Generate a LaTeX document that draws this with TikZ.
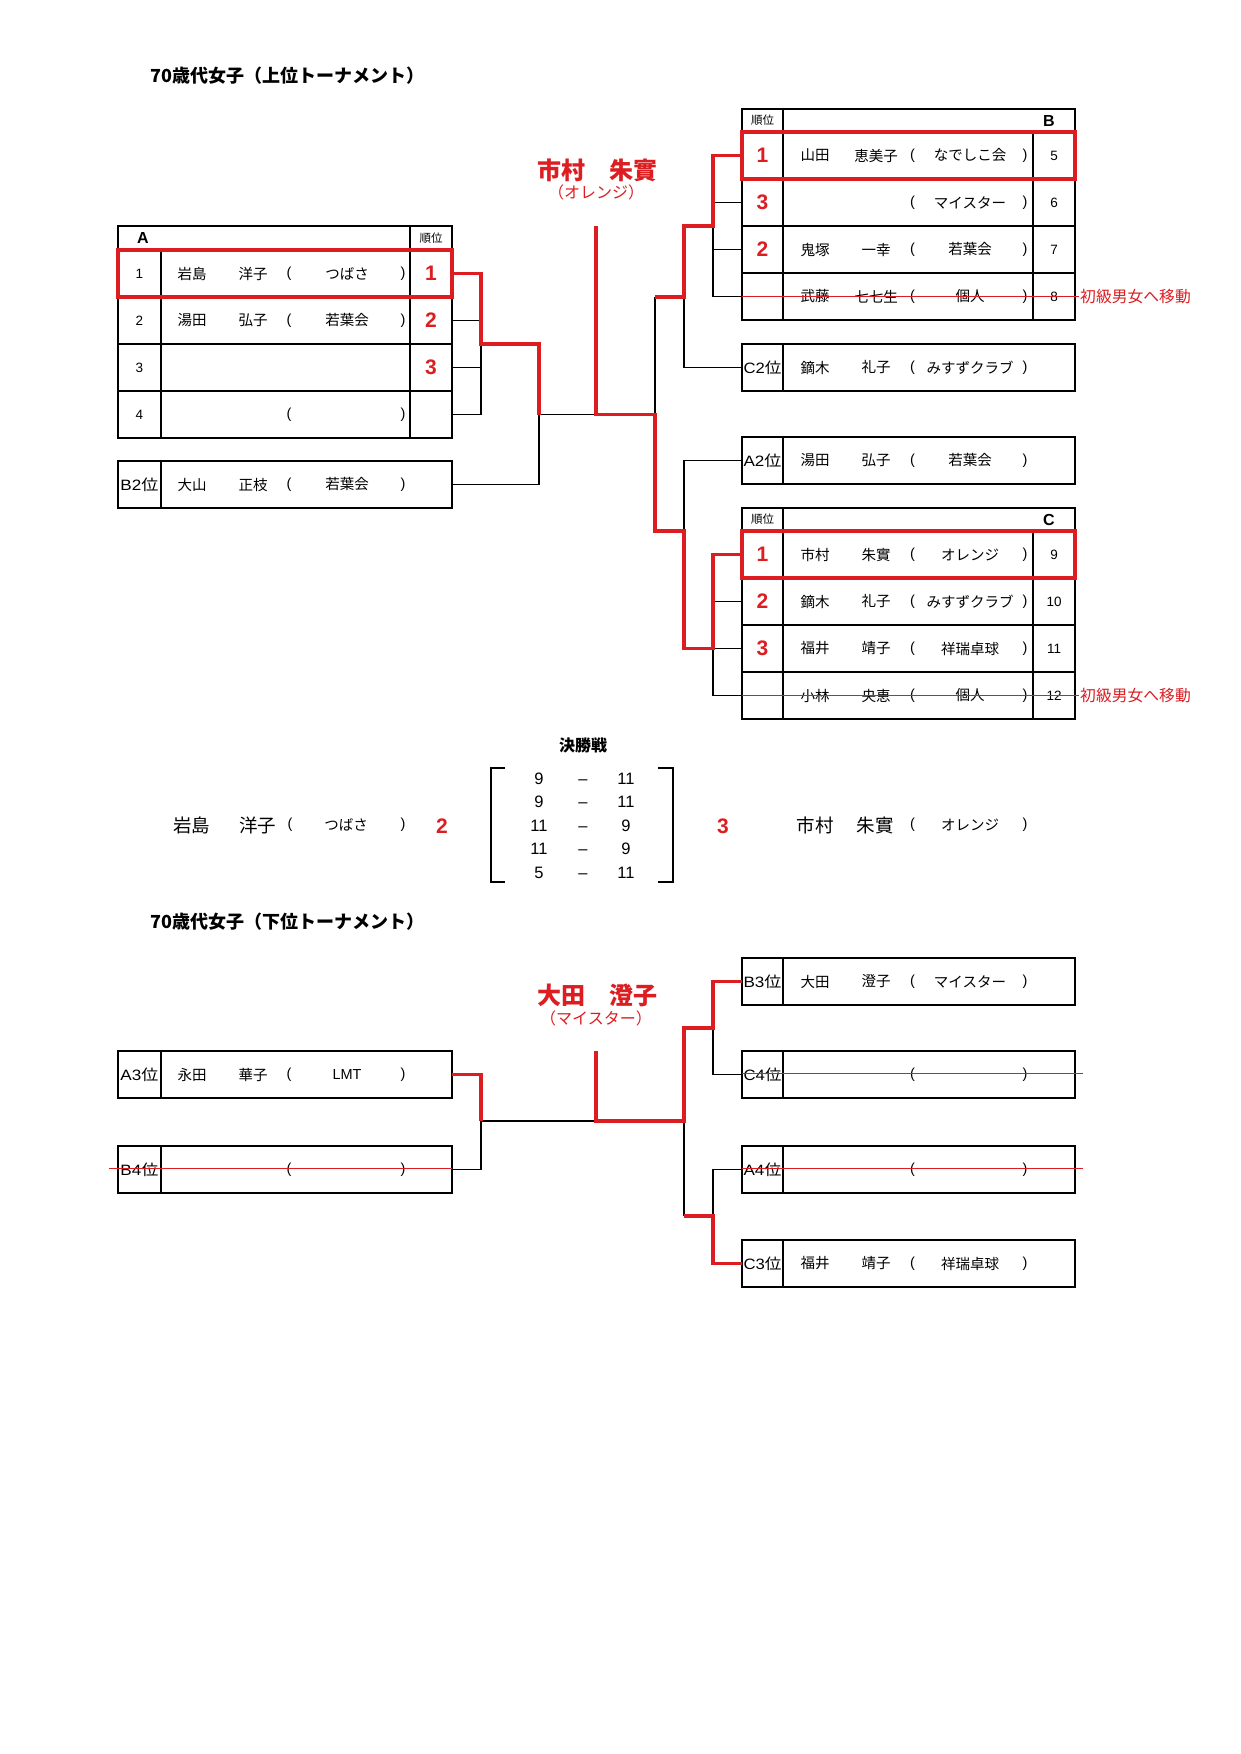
\documentclass[tikz,border=0pt]{standalone}
\usepackage{fontspec}
\usepackage{graphicx}
\setmainfont{Liberation Sans}
\newfontfamily\jp{Noto Sans CJK JP}
\definecolor{rd}{RGB}{220,30,34}
\newcommand\fsz[1]{\fontsize{#1}{#1}\selectfont}
\tikzset{
  tl/.style={line width=1.7pt},
  il/.style={line width=1.4pt},
  cn/.style={line width=1.6pt},
  wn/.style={line width=3.4pt, draw=rd},
  rbx/.style={line width=3.4pt, draw=rd},
  sk/.style={line width=1.4pt, draw=rd},
  tx/.style={inner sep=0pt, font=\jp\fsz{14.5}},
  pn/.style={inner sep=0pt, font=\fsz{14.5}},
  num/.style={inner sep=0pt, font=\fsz{13.5}},
  rk/.style={inner sep=0pt, font=\bfseries\fsz{21}, text=rd},
  hd/.style={inner sep=0pt, font=\jp\fsz{11.5}},
  grp/.style={inner sep=0pt, font=\bfseries\fsz{16}},
  lbl/.style={inner sep=0pt, font=\fsz{15}},
  sc/.style={inner sep=0pt, anchor=base, font=\fsz{16.5}},
  mv/.style={inner sep=0pt, anchor=west, font=\jp\fsz{15.8}, text=rd},
}
% left-type name line
\newcommand\Lname[5]{%
  \node[tx] (#1l) at (192,#2) {#3};
  \node[tx] (#1f) at (253,#2) {#4};
  \node[pn] (#1o) at (289,#2) {(};
  \node[tx] (#1c) at (347,#2) {#5};
  \node[pn] (#1x) at (403,#2) {)};
}
% right-type name line
\newcommand\Rname[5]{%
  \node[tx] (#1l) at (815,#2) {#3};
  \node[tx] (#1f) at (876,#2) {#4};
  \node[pn] (#1o) at (912.5,#2) {(};
  \node[tx] (#1c) at (970,#2) {#5};
  \node[pn] (#1x) at (1025,#2) {)};
}
\newcommand\Lbox[3]{%
  \draw[tl] (118,#2) rectangle (452,#2+47);
  \draw[tl] (161,#2) -- (161,#2+47);
  \node[lbl] (#1) at (139.5,#2+23.5) {\resizebox{38pt}{\height}{#3}};
}
\newcommand\Rbox[3]{%
  \draw[tl] (742,#2) rectangle (1075,#2+47);
  \draw[tl] (783,#2) -- (783,#2+47);
  \node[lbl] (#1) at (762.5,#2+23.5) {\resizebox{38pt}{\height}{#3}};
}
\begin{document}
\begin{tikzpicture}[x=1pt,y=-1pt]
\useasboundingbox[fill=white] (0,0) rectangle (1240,1754);

% ---------- titles ----------
\node[anchor=west, inner sep=0pt, font=\jp\bfseries\fsz{18}] (t1) at (150,76) {70歳代女子（上位トーナメント）};
\node[anchor=west, inner sep=0pt, font=\jp\bfseries\fsz{18}] (t2) at (150,922) {70歳代女子（下位トーナメント）};

% ---------- winners ----------
\node[inner sep=0pt, font=\jp\bfseries\fsz{24}, text=rd] (w1) at (597,170) {市村　朱實};
\node[inner sep=0pt, font=\jp\fsz{16}, text=rd] (w1c) at (596,192) {（オレンジ）};
\node[inner sep=0pt, font=\jp\bfseries\fsz{24}, text=rd] (w2) at (597,995) {大田　澄子};
\node[inner sep=0pt, font=\jp\fsz{16}, text=rd] (w2c) at (596,1018) {（マイスター）};

% ---------- group A ----------
\draw[tl] (118,226) rectangle (452,438);
\foreach \yy in {250,297,344,391} \draw[il] (118,\yy) -- (452,\yy);
\draw[il] (161,250) -- (161,438);
\draw[il] (410,226) -- (410,438);
\node[grp] (Ahd) at (143,238) {A};
\node[hd] (Ark) at (431,238) {順位};
\node[num] (A1n) at (139.5,273.5) {1};
\Lname{A1}{273.5}{岩島}{洋子}{つばさ}
\node[rk] (A1r) at (431,273.5) {1};
\node[num] (A2n) at (139.5,320.5) {2};
\Lname{A2}{320.5}{湯田}{弘子}{若葉会}
\node[rk] (A2r) at (431,320.5) {2};
\node[num] (A3n) at (139.5,367.5) {3};
\node[rk] (A3r) at (431,367.5) {3};
\node[num] (A4n) at (139.5,414.5) {4};
\node[pn] (A4o) at (289,414.5) {(};
\node[pn] (A4x) at (403,414.5) {)};
\draw[rbx] (118,250) rectangle (452,297);

\Lbox{B2lab}{461}{B2\jp 位}
\Lname{B2e}{484.5}{大山}{正枝}{若葉会}

% ---------- group B ----------
\draw[tl] (742,109) rectangle (1075,320);
\foreach \yy in {132,179,226,273} \draw[il] (742,\yy) -- (1075,\yy);
\draw[il] (783,109) -- (783,320);
\draw[il] (1033,132) -- (1033,320);
\node[hd] (Brk) at (762.5,120.5) {順位};
\node[grp] (Bhd) at (1049,121) {B};
\node[rk] (B1r) at (762.5,155.5) {1};
\Rname{B1}{155.5}{山田}{恵美子}{なでしこ会}
\node[num] (B1n) at (1054,155.5) {5};
\node[rk] (B2r) at (762.5,202.5) {3};
\Rname{B2}{202.5}{}{}{マイスター}
\node[num] (B2n) at (1054,202.5) {6};
\node[rk] (B3r) at (762.5,249.5) {2};
\Rname{B3}{249.5}{鬼塚}{一幸}{若葉会}
\node[num] (B3n) at (1054,249.5) {7};
\Rname{B4}{296.5}{武藤}{七七生}{個人}
\node[num] (B4n) at (1054,296.5) {8};
\draw[rbx] (742,132) rectangle (1075,179);

\Rbox{C2lab}{344}{C2\jp 位}
\Rname{C2e}{367.5}{鏑木}{礼子}{みすずクラブ}
\Rbox{A2lab}{437}{A2\jp 位}
\Rname{A2e}{460.5}{湯田}{弘子}{若葉会}

% ---------- group C ----------
\draw[tl] (742,508) rectangle (1075,719);
\foreach \yy in {531,578,625,672} \draw[il] (742,\yy) -- (1075,\yy);
\draw[il] (783,508) -- (783,719);
\draw[il] (1033,531) -- (1033,719);
\node[hd] (Crk) at (762.5,519.5) {順位};
\node[grp] (Chd) at (1049,520) {C};
\node[rk] (C1r) at (762.5,554.5) {1};
\Rname{C1}{554.5}{市村}{朱實}{オレンジ}
\node[num] (C1n) at (1054,554.5) {9};
\node[rk] (C2r) at (762.5,601.5) {2};
\Rname{C2}{601.5}{鏑木}{礼子}{みすずクラブ}
\node[num] (C2n) at (1054,601.5) {10};
\node[rk] (C3r) at (762.5,648.5) {3};
\Rname{C3}{648.5}{福井}{靖子}{祥瑞卓球}
\node[num] (C3n) at (1054,648.5) {11};
\Rname{C4}{695.5}{小林}{央恵}{個人}
\node[num] (C4n) at (1054,695.5) {12};
\draw[rbx] (742,531) rectangle (1075,578);

% strike-outs (upper)
\coordinate (sB4a) at (742,296.5); \coordinate (sB4b) at (1079,296.5);
\coordinate (sC4a) at (742,695.5); \coordinate (sC4b) at (1079,695.5);
\draw[sk] (sB4a) -- (sB4b);
\draw[sk] (sC4a) -- (sC4b);
\node[mv] (mvB) at (1080,296.5) {初級男女へ移動};
\node[mv] (mvC) at (1080,695.5) {初級男女へ移動};

% ---------- upper bracket ----------
\coordinate (pA1) at (452,273.5);
\coordinate (pA2) at (452,320.5);
\coordinate (pA3) at (452,367.5);
\coordinate (pA4) at (452,414.5);
\coordinate (pB2L) at (452,484.5);
\coordinate (jA) at (481,344);
\coordinate (jL) at (539,414.5);
\coordinate (cT) at (596,226);
\coordinate (cB) at (596,414.5);
\coordinate (pB1) at (742,155.5);
\coordinate (pB2) at (742,202.5);
\coordinate (pB3) at (742,249.5);
\coordinate (pB4) at (742,296.5);
\coordinate (pC2e) at (742,367.5);
\coordinate (pA2e) at (742,460.5);
\coordinate (pC1) at (742,554.5);
\coordinate (pC2) at (742,601.5);
\coordinate (pC3) at (742,648.5);
\coordinate (pC4) at (742,695.5);
\coordinate (jB) at (713,226);
\coordinate (jB2) at (684,297);
\coordinate (jB3) at (655,297);
\coordinate (jR) at (655,414.5);
\coordinate (jR2) at (655,531);
\coordinate (jC2) at (684,531);
\coordinate (jC) at (713,648.5);

\draw[cn] (pA2) -| (jA);
\draw[cn] (pA3) -| (jA);
\draw[cn] (pA4) -| (jA);
\draw[cn] (pB2L) -| (jL);
\draw[cn] (jL) -- (cB);
\draw[cn] (pB2) -| (jB);
\draw[cn] (pB3) -| (jB);
\draw[cn] (pB4) -| (jB);
\draw[cn] (pC2e) -| (jB2);
\draw[cn] (jB3) -- (jR);
\draw[cn] (pA2e) -| (jC2);
\draw[cn] (pC2) -| (jC);
\draw[cn] (pC3) -- (jC);
\draw[cn] (pC4) -| (jC);

\draw[wn] (pA1) -| (jA) -| (jL);
\draw[wn] (pB1) -| (jB) -| (jB2) -- (jB3);
\draw[wn] (cT) |- (jR) -- (jR2) -- (jC2) |- (jC) |- (pC1);

% ---------- final ----------
\node[inner sep=0pt, font=\jp\bfseries\fsz{16}] (kss) at (583,745) {決勝戦};
\coordinate (bl1) at (505,768); \coordinate (bl2) at (491,768);
\coordinate (bl3) at (491,882); \coordinate (bl4) at (505,882);
\coordinate (br1) at (658,768); \coordinate (br2) at (673,768);
\coordinate (br3) at (673,882); \coordinate (br4) at (658,882);
\draw[cn] (bl1) -- (bl2) -- (bl3) -- (bl4);
\draw[cn] (br1) -- (br2) -- (br3) -- (br4);
\foreach \yy/\la/\rb [count=\i] in {778/9/11, 801.5/9/11, 825/11/9, 848.5/11/9, 872/5/11}{
  \node[sc] (sl\i) at (539,\yy+6) {\la};
  \node[sc] (sd\i) at (583,\yy+6) {–};
  \node[sc] (sr\i) at (626,\yy+6) {\rb};
}
\node[inner sep=0pt, font=\jp\fsz{18.5}] (fLl) at (191.5,825) {岩島};
\node[inner sep=0pt, font=\jp\fsz{18.5}] (fLf) at (257.5,825) {洋子};
\node[pn] (fLo) at (290,825) {(};
\node[tx] (fLc) at (346,825) {つばさ};
\node[pn] (fLx) at (403,825) {)};
\node[rk] (fLr) at (442,826) {2};
\node[rk] (fRr) at (723,826) {3};
\node[inner sep=0pt, font=\jp\fsz{18.5}] (fRl) at (815,825) {市村};
\node[inner sep=0pt, font=\jp\fsz{18.5}] (fRf) at (875,825) {朱實};
\node[pn] (fRo) at (912.5,825) {(};
\node[tx] (fRc) at (970,825) {オレンジ};
\node[pn] (fRx) at (1025,825) {)};

% ---------- lower tournament ----------
\Lbox{A3lab}{1051}{A3\jp 位}
\Lname{A3e}{1074.5}{永田}{華子}{\fontspec{Liberation Sans}LMT}
\Lbox{B4lab}{1146}{B4\jp 位}
\node[pn] (B4o) at (289,1169.5) {(};
\node[pn] (B4x) at (403,1169.5) {)};

\Rbox{B3lab}{958}{B3\jp 位}
\Rname{B3e}{981.5}{大田}{澄子}{マイスター}
\Rbox{C4lab}{1051}{C4\jp 位}
\node[pn] (C4o) at (912.5,1074.5) {(};
\node[pn] (C4x) at (1025,1074.5) {)};
\Rbox{A4lab}{1146}{A4\jp 位}
\node[pn] (A4eo) at (912.5,1169.5) {(};
\node[pn] (A4ex) at (1025,1169.5) {)};
\Rbox{C3lab}{1240}{C3\jp 位}
\Rname{C3e}{1263.5}{福井}{靖子}{祥瑞卓球}

\coordinate (qA3) at (452,1074.5);
\coordinate (qB4) at (452,1169.5);
\coordinate (lj) at (481,1121);
\coordinate (lcT) at (596,1051);
\coordinate (lc) at (596,1121);
\coordinate (lr) at (684,1121);
\coordinate (lrT) at (713,1028);
\coordinate (lrB) at (684,1216);
\coordinate (lrB2) at (713,1216);
\coordinate (qB3) at (742,981.5);
\coordinate (qC4) at (742,1074.5);
\coordinate (qA4) at (742,1169.5);
\coordinate (qC3) at (742,1263.5);

\draw[cn] (qB4) -| (lj);
\draw[cn] (lj) -- (lc);
\draw[cn] (qC4) -| (lrT);
\draw[cn] (lr) -- (lrB);
\draw[cn] (qA4) -| (lrB2);
\draw[wn] (qA3) -| (lj);
\draw[wn] (lcT) -- (lc) -- (lr) |- (lrT) |- (qB3);
\draw[wn] (lrB) -- (lrB2) |- (qC3);

% strike-outs (lower)
\coordinate (sB4l) at (109,1168.5); \coordinate (sB4r) at (452,1168.5);
\coordinate (sC4l) at (742,1073.5); \coordinate (sC4r) at (1083,1073.5);
\coordinate (sA4l) at (742,1168.5); \coordinate (sA4r) at (1083,1168.5);
\draw[sk] (sB4l) -- (sB4r);
\draw[sk] (sC4l) -- (sC4r);
\draw[sk] (sA4l) -- (sA4r);
\end{tikzpicture}
\end{document}
